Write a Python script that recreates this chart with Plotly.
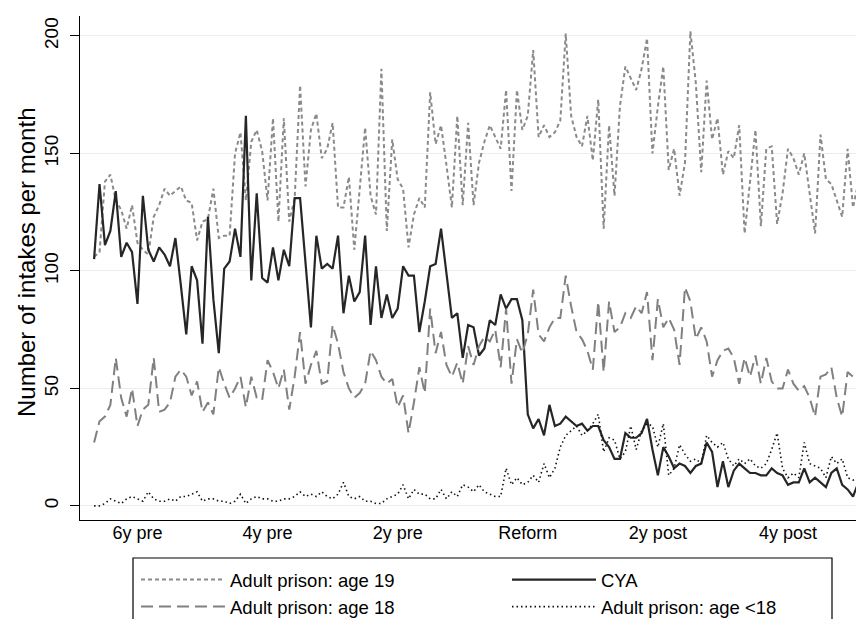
import plotly.graph_objects as go

months = list(range(-80, 64))

tick_vals = [-72, -48, -24, 0, 24, 48]
tick_text = ["6y pre", "4y pre", "2y pre", "Reform", "2y post", "4y post"]
y_ticks = [0, 50, 100, 150, 200]

adult_19 = [
    106, 108, 138, 141, 130, 126, 118, 128, 112, 109, 107, 123, 128, 135, 132, 134, 136, 130, 129, 113, 121, 122, 135, 114, 115, 115, 150,
    159, 130, 155, 160, 151, 130, 165, 121, 165, 121, 131, 179, 136, 160, 167, 148, 152, 163, 127, 127, 140, 109,
    135, 161, 132, 124, 186, 117, 156, 139, 135, 110, 124, 131, 127, 176, 154, 162, 145, 127, 166, 128, 163, 128,
    146, 155, 162, 157, 152, 177, 134, 177, 160, 166, 194, 157, 162, 157, 159, 164, 201, 166, 157, 153, 166, 147,
    173, 118, 162, 132, 170, 187, 182, 177, 186, 199, 150, 170, 187, 143, 152, 132, 146, 202, 180, 142, 181, 156, 165,
    141, 151, 148, 162, 116, 138, 160, 119, 152, 153, 120, 133, 152, 148, 141, 150, 133, 116, 158, 139, 137, 130, 123, 152, 127, 138, 128, 96,
]

adult_18 = [
    27, 36, 38, 43, 63, 46, 38, 50, 34, 41, 43, 63, 40, 41, 44, 55, 58, 55, 47, 53, 40, 44, 39, 59, 52, 46, 50,
    55, 42, 55, 46, 45, 62, 57, 50, 58, 41, 55, 74, 52, 60, 66, 52, 53, 77, 69, 57, 50, 46,
    48, 52, 66, 62, 55, 52, 54, 42, 47, 31, 44, 59, 48, 84, 65, 74, 60, 55, 61, 52, 68, 60,
    68, 72, 70, 75, 59, 84, 52, 71, 65, 73, 92, 73, 70, 76, 80, 80, 98, 85, 74, 71, 66, 58,
    87, 57, 87, 74, 76, 82, 80, 85, 82, 91, 62, 88, 76, 80, 75, 60, 93, 87, 71, 76, 70, 55, 62,
    66, 67, 63, 52, 63, 55, 64, 52, 63, 53, 50, 50, 58, 52, 49, 51, 46, 38, 55, 56, 59, 46, 38, 57, 55, 55, 45, 36,
]

cya = [
    105, 137, 111, 117, 134, 106, 112, 108, 86, 132, 109, 104, 110, 107, 102, 114, 94, 73, 102, 96, 69, 123, 88, 65, 101, 104, 118,
    106, 166, 96, 133, 97, 95, 110, 96, 109, 102, 131, 131, 104, 76, 115, 101, 103, 101, 115, 82, 98, 87,
    91, 115, 77, 102, 80, 90, 80, 84, 102, 98, 98, 74, 87, 102, 103, 118, 99, 80, 82, 63, 77, 76,
    64, 67, 79, 77, 90, 84, 88, 88, 79, 39, 33, 37, 30, 43, 34, 35, 38, 36, 34, 35, 32, 34,
    34, 28, 25, 20, 20, 31, 29, 29, 31, 37, 24, 13, 25, 21, 16, 18, 17, 14, 17, 18, 27, 23, 8,
    19, 8, 15, 18, 16, 14, 14, 13, 13, 16, 14, 13, 9, 10, 10, 16, 10, 12, 10, 8, 14, 16, 9, 7, 4, 10, 10, 10,
]

adult_u18 = [
    0, 0, 1, 3, 2, 1, 3, 4, 3, 2, 6, 3, 2, 2, 3, 2, 4, 4, 5, 6, 2, 3, 3, 2, 2, 1, 2,
    5, 1, 3, 4, 3, 3, 2, 2, 3, 3, 4, 6, 4, 5, 4, 6, 4, 3, 5, 10, 4, 3,
    4, 2, 2, 1, 1, 3, 4, 5, 9, 3, 7, 5, 5, 3, 3, 7, 3, 6, 4, 9, 8, 6,
    9, 6, 5, 4, 4, 16, 9, 12, 9, 10, 13, 10, 18, 12, 16, 25, 30, 32, 34, 30, 32, 35,
    39, 23, 29, 28, 20, 23, 34, 24, 32, 35, 34, 25, 35, 13, 16, 26, 22, 19, 20, 18, 30, 27, 25,
    27, 20, 17, 20, 18, 20, 17, 16, 18, 24, 31, 16, 12, 14, 12, 27, 18, 17, 16, 12, 21, 18, 20, 12, 11, 12, 27, 20,
]

for s in (adult_19, adult_18, cya, adult_u18):
    assert len(s) == len(months), len(s)

FONT = "Liberation Sans, Arial, Helvetica, sans-serif"

# plot area geometry (pixels)
W, H = 864, 619
L_M, T_M, B_M = 72, 8, 107
PW, PH = W - L_M, H - T_M - B_M


def px_x(p):
    return (p - L_M) / PW


def px_y(p):
    return (H - B_M - p) / PH


fig = go.Figure()
fig.add_trace(go.Scatter(x=months, y=adult_19, mode="lines", name="Adult prison: age 19",
                         line=dict(color="#8a8a8a", width=2, dash="4px,3px")))
fig.add_trace(go.Scatter(x=months, y=cya, mode="lines", name="CYA",
                         line=dict(color="#262626", width=2.2)))
fig.add_trace(go.Scatter(x=months, y=adult_18, mode="lines", name="Adult prison: age 18",
                         line=dict(color="#808080", width=2, dash="12px,6px")))
fig.add_trace(go.Scatter(x=months, y=adult_u18, mode="lines", name="Adult prison: age <18",
                         line=dict(color="#111111", width=1.6, dash="1.5px,3px")))

fig.update_layout(
    width=W, height=H,
    margin=dict(l=L_M, r=0, t=T_M, b=B_M, autoexpand=False),
    paper_bgcolor="white", plot_bgcolor="white",
    font=dict(family=FONT, size=18, color="black"),
    xaxis=dict(range=[-82.6, 63.5], tickvals=tick_vals, ticktext=tick_text,
               showline=True, linecolor="black", linewidth=1.2, ticks="",
               showgrid=False, zeroline=False, tickfont=dict(size=18),
               ticklabelstandoff=-4, automargin=False),
    yaxis=dict(range=[-6, 208.5], tickvals=y_ticks, tickangle=-90,
               showline=True, linecolor="black", linewidth=1.2,
               ticks="outside", ticklen=9, tickcolor="black", tickwidth=1.2,
               showgrid=True, gridcolor="#e6eef1", gridwidth=1.2, zeroline=False,
               tickfont=dict(size=19), ticklabelstandoff=4, automargin=False),
    legend=dict(orientation="h", x=px_x(128), xanchor="left",
                y=px_y(553), yanchor="top", borderwidth=0, bgcolor="rgba(0,0,0,0)",
                entrywidth=272, entrywidthmode="pixels", itemwidth=84,
                font=dict(size=18.5), traceorder="normal"),
    showlegend=True,
    annotations=[dict(text="Number of intakes per month", textangle=-90,
                      xref="paper", yref="paper", x=px_x(18), y=px_y(255),
                      xanchor="center", yanchor="middle", showarrow=False,
                      font=dict(size=24))],
    shapes=[dict(type="rect", xref="paper", yref="paper",
                 x0=px_x(125), x1=px_x(824), y0=px_y(550), y1=px_y(680),
                 line=dict(color="black", width=1.2), fillcolor="rgba(0,0,0,0)",
                 layer="above")],
)

fig.write_html("out.html")
